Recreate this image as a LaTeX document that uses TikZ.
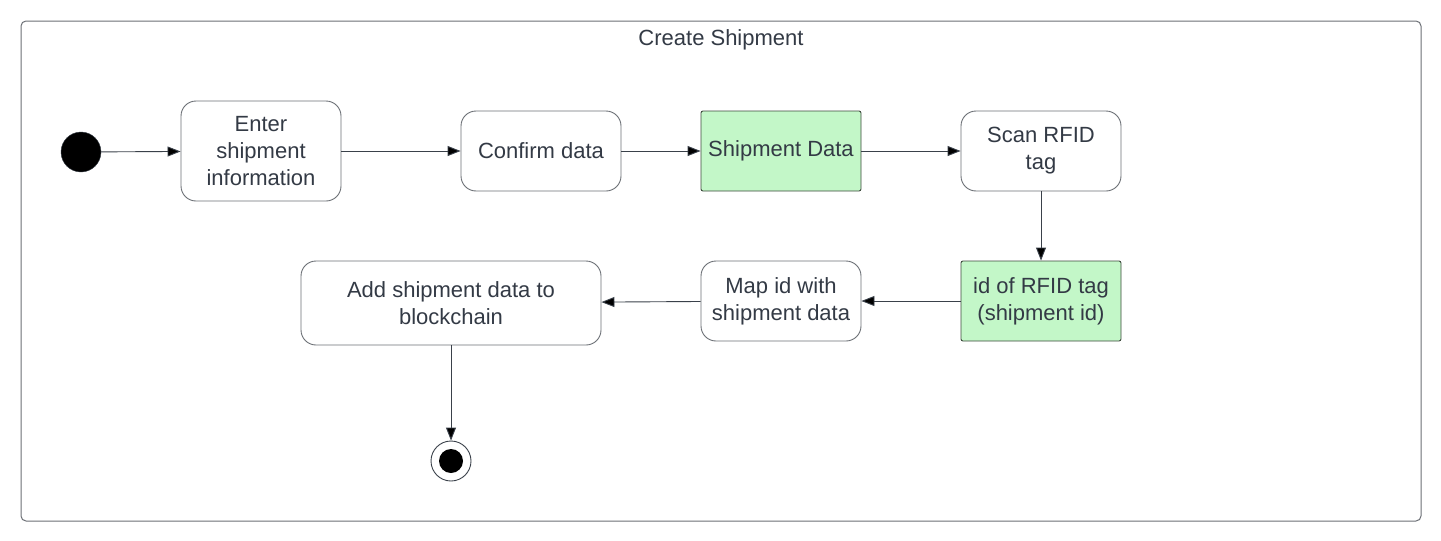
\documentclass[tikz,border=0pt]{standalone}
\usepackage{fontspec}
\setmainfont{Liberation Sans}
\usetikzlibrary{arrows.meta,positioning}
\definecolor{txtgray}{HTML}{333A45}
\definecolor{linegray}{HTML}{3A414A}
\definecolor{boxgray}{HTML}{6B6F75}
\definecolor{datagreen}{HTML}{C3F7C8}
\definecolor{greenedge}{HTML}{3C4A3C}
\tikzset{
  action/.style={draw=boxgray, line width=0.9pt, rounded corners=15pt, fill=white,
    minimum width=160pt, minimum height=80pt, inner sep=0pt, align=center,
    text=txtgray, font=\fontsize{22}{27}\selectfont},
  object/.style={action, draw=greenedge, fill=datagreen, rounded corners=2pt},
  flow/.style={-{Triangle[length=13pt,width=10pt]}, draw=linegray, line width=0.9pt}
}
\begin{document}
\begin{tikzpicture}[node distance=240pt,on grid]
  \useasboundingbox (0pt,0pt) rectangle (1441pt,-541pt);
  \draw[boxgray, line width=1pt, rounded corners=5pt] (21pt,-21pt) rectangle (1421pt,-521pt);
  \node[text=txtgray, font=\fontsize{22}{27}\selectfont] (title) at (721pt,-40pt) {Create Shipment};
               \node[circle, fill=black, draw=linegray, minimum size=40pt, inner sep=0pt] (start) at (81pt,-152pt) {};
               \node[action, minimum height=100pt] (enter) at (261pt,-151pt) {Enter\\shipment\\information};
               \node[action] (confirm) [right=280pt of enter] {Confirm data};
               \node[object] (shipdata) [right=of confirm] {Shipment Data};
               \node[action] (scan) [right=260pt of shipdata] {Scan RFID\\tag};
               \node[object] (tagid) [below=150pt of scan] {id of RFID tag\\(shipment id)};
               \node[action] (mapid) [left=260pt of tagid] {Map id with\\shipment data};
               \node[action, minimum width=300pt, minimum height=84pt] (addchain) at (451pt,-303pt) {Add shipment data to\\blockchain};
               \node[circle, draw=linegray, line width=0.9pt, minimum size=40pt, inner sep=0pt] (finish) at (451pt,-461pt) {};
               \node[circle, fill=black, minimum size=24pt, inner sep=0pt] at (finish) {};
		\path[flow]
			(start)		edge (enter)
			(enter)		edge (confirm)
			(confirm)	edge (shipdata)
			(shipdata)	edge (scan)
			(scan)		edge (tagid)
			(tagid)		edge (mapid)
			(mapid)		edge (addchain)
			(addchain)	edge (finish);
\end{tikzpicture}
\end{document}
